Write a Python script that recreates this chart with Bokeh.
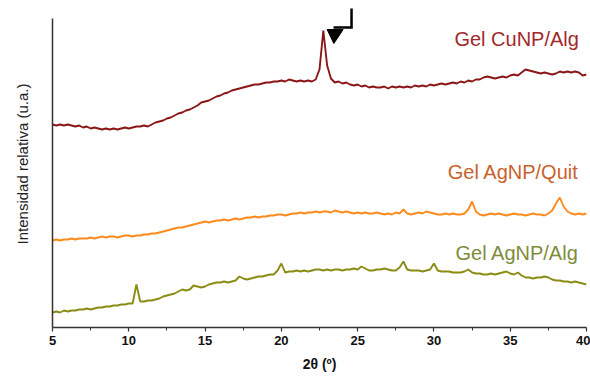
from bokeh.plotting import figure
from bokeh.models import Range1d, FixedTicker, ColumnDataSource
from bokeh.core.properties import value
from bokeh.embed import file_html
from bokeh.resources import INLINE

# ---- data (2theta grid 5..40 step 0.25, intensities in arbitrary units) ----
x_start = 5.0
x_step = 0.25

cu_alg = [
    203, 202, 203, 202,   # 5
    203, 202, 201, 202,   # 6
    200, 201, 199, 200,   # 7
    199, 198, 199, 198,   # 8
    199, 198, 199, 200,   # 9
    199, 200, 201, 201,   # 10
    202, 201, 203, 205,   # 11
    206, 207, 209, 210,   # 12
    212, 214, 215, 217,   # 13
    218, 220, 222, 225,   # 14
    226, 227, 229, 231,   # 15
    232, 234, 235, 237,   # 16
    238, 239, 240, 241,   # 17
    242, 243, 243, 244,   # 18
    245, 245, 246, 246,   # 19
    247, 246, 248, 247,   # 20
    246, 247, 246, 247,   # 21
    246, 248, 258, 297,   # 22
    262, 249, 245, 246,   # 23
    244, 245, 243, 242,   # 24
    243, 241, 242, 240,   # 25
    241, 240, 240, 241,   # 26
    239, 241, 240, 241,   # 27
    240, 241, 240, 242,   # 28
    241, 242, 241, 243,   # 29
    242, 243, 244, 243,   # 30
    244, 245, 244, 246,   # 31
    245, 247, 246, 248,   # 32
    248, 250, 251, 250,   # 33
    249, 250, 251, 250,   # 34
    252, 253, 252, 255,   # 35
    258, 257, 256, 255,   # 36
    254, 255, 254, 253,   # 37
    254, 256, 255, 256,   # 38
    255, 256, 255, 252,   # 39
    253,                  # 40
]

ag_quit = [
    87, 88, 87, 88,       # 5
    88, 89, 88, 89,       # 6
    89, 89, 90, 89,       # 7
    90, 91, 90, 91,       # 8
    91, 90, 91, 92,       # 9
    92, 91, 92, 92,       # 10
    93, 93, 94, 94,       # 11
    95, 96, 97, 98,       # 12
    99, 100, 100, 101,    # 13
    102, 103, 104, 105,   # 14
    106, 105, 106, 107,   # 15
    107, 108, 107, 108,   # 16
    109, 108, 109, 110,   # 17
    110, 111, 110, 111,   # 18
    111, 112, 112, 113,   # 19
    113, 112, 113, 114,   # 20
    114, 115, 114, 115,   # 21
    115, 116, 115, 116,   # 22
    116, 115, 117, 116,   # 23
    115, 116, 115, 114,   # 24
    115, 114, 115, 114,   # 25
    114, 115, 114, 113,   # 26
    114, 113, 115, 114,   # 27
    118, 114, 113, 114,   # 28
    115, 114, 116, 115,   # 29
    114, 113, 113, 114,   # 30
    113, 114, 113, 113,   # 31
    114, 118, 126, 116,   # 32
    113, 112, 113, 114,   # 33
    113, 114, 113, 112,   # 34
    113, 114, 113, 113,   # 35
    112, 113, 114, 113,   # 36
    113, 112, 114, 117,   # 37
    124, 130, 121, 116,   # 38
    114, 113, 114, 113,   # 39
    114,                  # 40
]

ag_alg = [
    15, 16, 15, 17,       # 5
    16, 17, 17, 18,       # 6
    18, 19, 18, 19,       # 7
    20, 20, 21, 21,       # 8
    22, 22, 23, 23,       # 9
    24, 24, 43, 26,       # 10
    26, 27, 27, 28,       # 11
    29, 31, 32, 33,       # 12
    34, 36, 38, 37,       # 13
    38, 42, 41, 40,       # 14
    41, 43, 44, 45,       # 15
    45, 46, 45, 46,       # 16
    47, 51, 49, 48,       # 17
    49, 50, 51, 51,       # 18
    52, 53, 53, 57,       # 19
    64, 55, 56, 56,       # 20
    57, 56, 57, 56,       # 21
    57, 58, 58, 57,       # 22
    58, 57, 58, 58,       # 23
    57, 58, 58, 59,       # 24
    58, 61, 59, 57,       # 25
    57, 58, 58, 59,       # 26
    58, 57, 57, 60,       # 27
    66, 58, 57, 57,       # 28
    57, 56, 57, 58,       # 29
    64, 57, 56, 56,       # 30
    56, 55, 55, 55,       # 31
    56, 58, 55, 54,       # 32
    54, 53, 53, 54,       # 33
    53, 54, 55, 56,       # 34
    54, 53, 55, 52,       # 35
    50, 50, 49, 50,       # 36
    50, 51, 50, 48,       # 37
    47, 47, 46, 46,       # 38
    45, 46, 45, 44,       # 39
    43,                   # 40
]

series_names = ["Gel CuNP/Alg", "Gel AgNP/Quit", "Gel AgNP/Alg"]
label_y = [289, 156, 75]
label_x = 39.5

x_ticks = [5, 10, 15, 20, 25, 30, 35, 40]
x_minor_ticks = [7.5, 12.5, 17.5, 22.5, 27.5, 32.5, 37.5]

# ---- styles ----
line_colors = ["#8C1616", "#FF8A1C", "#8A8C14"]
text_colors = ["#A3282B", "#C9622C", "#7E8C3C"]

x = [x_start + x_step * i for i in range(len(cu_alg))]

p = figure(width=590, height=377, output_backend="svg", toolbar_location=None,
           x_range=Range1d(5, 40), y_range=Range1d(0, 327),
           min_border_left=52, min_border_right=4, min_border_top=0,
           min_border_bottom=50)
p.outline_line_color = None
p.grid.visible = False
p.background_fill_color = "white"
p.border_fill_color = "white"

xa = p.xaxis[0]
xa.ticker = FixedTicker(ticks=x_ticks, minor_ticks=x_minor_ticks)
xa.axis_line_color = "#333333"
xa.axis_line_width = 1.5
xa.major_tick_out = 4
xa.major_tick_in = 0
xa.minor_tick_out = 3
xa.minor_tick_in = 0
xa.major_tick_line_color = "#333333"
xa.minor_tick_line_color = "#333333"
xa.major_tick_line_width = 1.2
xa.major_label_standoff = 4
xa.major_label_text_font = "Liberation Sans"
xa.major_label_text_font_style = "bold"
xa.major_label_text_font_size = "13px"
xa.major_label_text_color = "#111111"
xa.axis_label = "2θ (º)"
xa.axis_label_text_font = "Liberation Sans"
xa.axis_label_text_font_style = "bold"
xa.axis_label_text_font_size = "14px"
xa.axis_label_text_color = "#111111"
xa.axis_label_standoff = 8

ya = p.yaxis[0]
ya.ticker = FixedTicker(ticks=[])
ya.bounds = (0, 309)
ya.axis_line_color = "#333333"
ya.axis_line_width = 1.5
ya.major_tick_out = 0
ya.major_tick_in = 0
ya.minor_tick_out = 0
ya.minor_tick_in = 0
ya.axis_label = "Intensidad relativa (u.a.)"
ya.axis_label_text_font = "Liberation Sans"
ya.axis_label_text_font_style = "normal"
ya.axis_label_text_font_size = "15px"
ya.axis_label_text_color = "#222222"
ya.axis_label_standoff = 22

for ys, c in zip([cu_alg, ag_quit, ag_alg], line_colors):
    p.line(x, ys, line_color=c, line_width=1.9)

src = ColumnDataSource(dict(x=[label_x] * 3, y=label_y, t=series_names, c=text_colors))
p.text(x="x", y="y", text="t", text_color="c", source=src, text_align="right",
       text_baseline="alphabetic", text_font=value("Liberation Sans"),
       text_font_size="20px")

# bent arrow marking the CuNP peak
i_pk = cu_alg.index(max(cu_alg))
pk_x, pk_y = x[i_pk], cu_alg[i_pk]
tip_x, tip_y = pk_x + 0.69, pk_y - 13
p.patch([tip_x - 0.44, tip_x + 0.61, tip_x], [tip_y + 14, tip_y + 14, tip_y],
        fill_color="black", line_color="black", line_width=1)
p.line([tip_x + 1.16, tip_x + 1.16, tip_x - 0.02], [tip_y + 35, tip_y + 16, tip_y + 16],
       line_color="black", line_width=2.5, line_join="miter")

open("out.html", "w").write(file_html(p, INLINE))
